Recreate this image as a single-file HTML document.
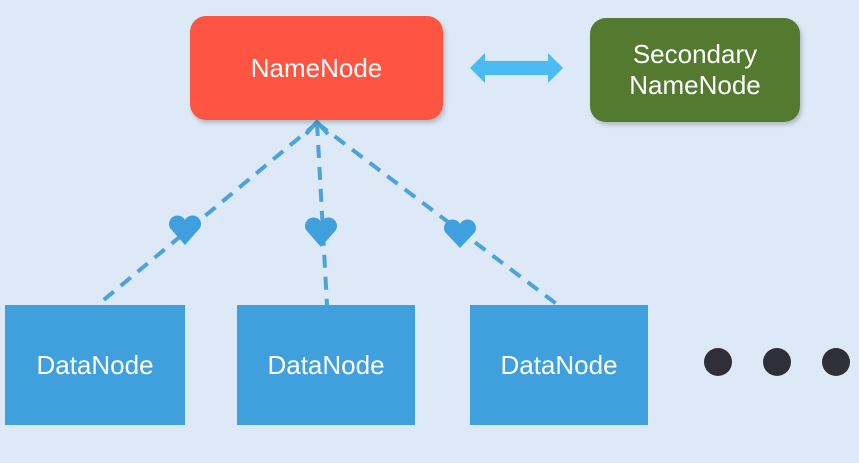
<!DOCTYPE html>
<html><head><style>
body{margin:0;width:859px;height:463px;background:#dde9f6;position:relative;overflow:hidden;font-family:"Liberation Sans",sans-serif}
.b{position:absolute;display:flex;align-items:center;justify-content:center;text-align:center;color:#fff}
</style></head><body>
<svg width="859" height="463" style="position:absolute;left:0;top:0">
<g stroke="#4ba3d9" stroke-width="4" stroke-dasharray="13,9" fill="none">
<line x1="317" y1="123" x2="100" y2="303"/>
<line x1="317" y1="123" x2="327" y2="305"/>
<line x1="317" y1="123" x2="558" y2="305"/>
</g>
<polyline points="306,134 317,122 328,134" stroke="#4ba3d9" stroke-width="4" fill="none"/>
<g fill="#3fa0dd">
<path d="M185,245 L170,228 A8,8 0 0 1 185,220 A8,8 0 0 1 200,228 Z"/>
<path d="M321,247 L306,230 A8,8 0 0 1 321,222 A8,8 0 0 1 336,230 Z"/>
<path d="M460,248 L445,232 A8,8 0 0 1 460,224 A8,8 0 0 1 475,232 Z"/>
</g>
<path d="M470,68 L485,53 L485,61 L548,61 L548,53 L563,68 L548,83 L548,75 L485,75 L485,83 Z" fill="#4bbcf3"/>
<g fill="#2f2f3a"><circle cx="718" cy="362" r="14"/><circle cx="777" cy="362" r="14"/><circle cx="836" cy="362" r="14"/></g>
</svg>
<div class="b" style="left:190px;top:16px;width:253px;height:104px;background:#fd5542;border-radius:16px;font-size:26px;box-shadow:2px 3px 4px rgba(0,0,0,.2)">NameNode</div>
<div class="b" style="left:590px;top:18px;width:210px;height:104px;background:#537a2f;border-radius:16px;font-size:26px;line-height:31px;box-shadow:2px 3px 4px rgba(0,0,0,.2)">Secondary<br>NameNode</div>
<div class="b" style="left:5px;top:305px;width:180px;height:120px;background:#3fa0dd;font-size:26px">DataNode</div>
<div class="b" style="left:237px;top:305px;width:178px;height:120px;background:#3fa0dd;font-size:26px">DataNode</div>
<div class="b" style="left:470px;top:305px;width:178px;height:120px;background:#3fa0dd;font-size:26px">DataNode</div>
</body></html>
